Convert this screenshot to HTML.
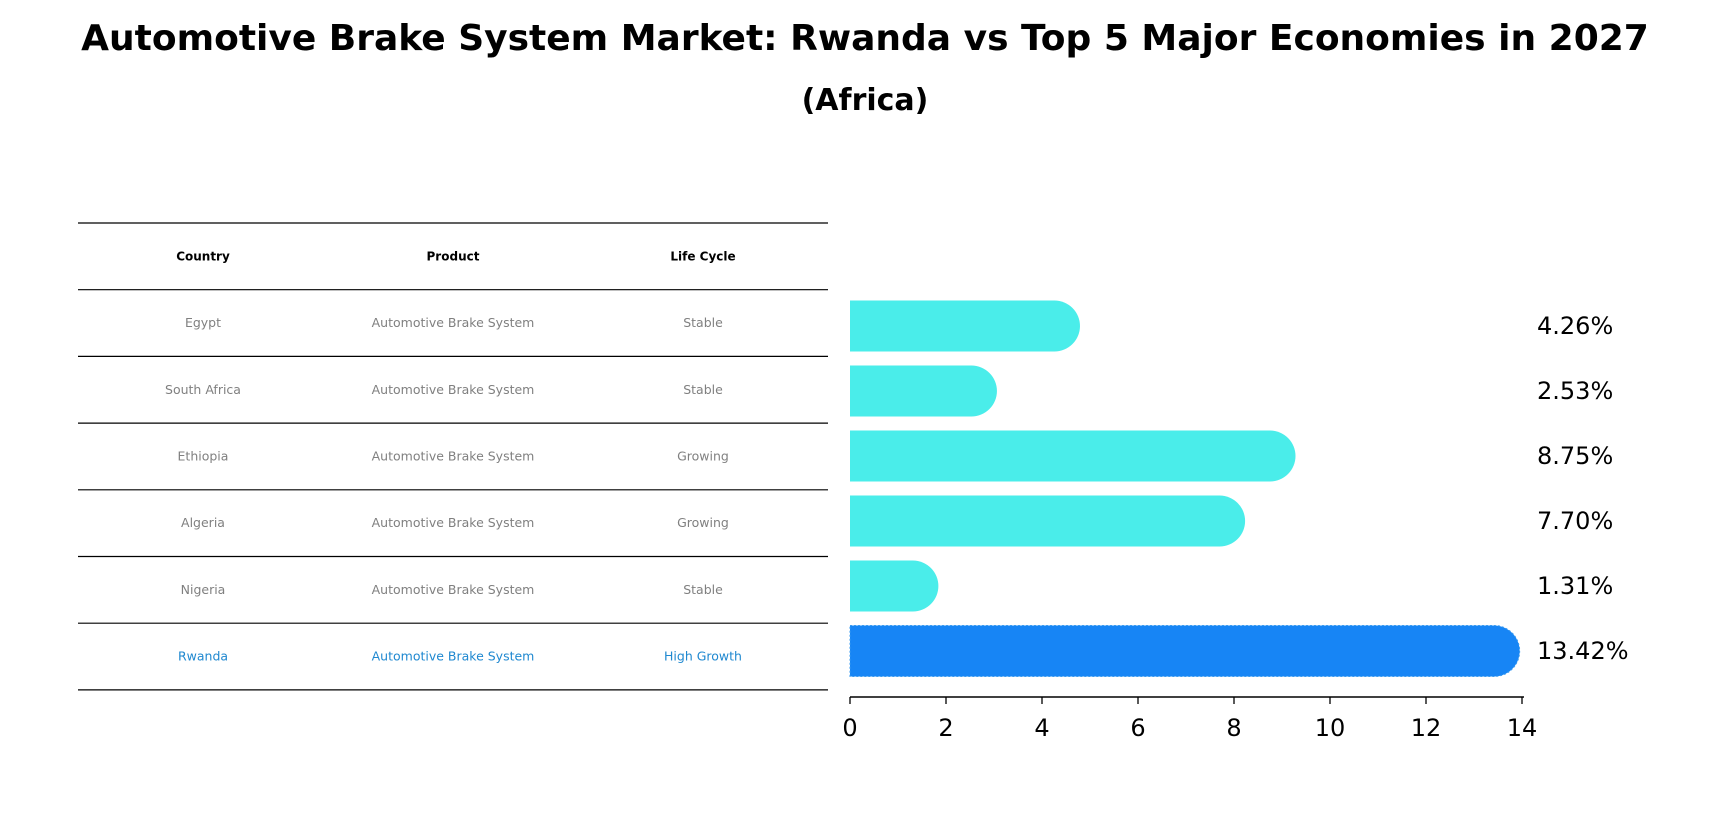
<!DOCTYPE html>
<html><head><meta charset="utf-8"><style>
body{margin:0;background:#fff;font-family:"DejaVu Sans","Liberation Sans",sans-serif;}
</style></head><body>
<svg width="1731" height="823" xmlns="http://www.w3.org/2000/svg">
<text x="865" y="50" text-anchor="middle" font-size="36" font-weight="bold">Automotive Brake System Market: Rwanda vs Top 5 Major Economies in 2027</text>
<text x="865" y="110" text-anchor="middle" font-size="30" font-weight="bold">(Africa)</text>
<g id="table"></g>
<g id="bars"></g>
</svg>
<script>
const countries=["Egypt","South Africa","Ethiopia","Algeria","Nigeria","Rwanda"];
const products=["Automotive Brake System","Automotive Brake System","Automotive Brake System","Automotive Brake System","Automotive Brake System","Automotive Brake System"];
const lifeCycles=["Stable","Stable","Growing","Growing","Stable","High Growth"];
const values=[4.26,2.53,8.75,7.70,1.31,13.42];
const xTicks=[0,2,4,6,8,10,12,14];
const NS="http://www.w3.org/2000/svg";
function mk(t,a,p,txt){const e=document.createElementNS(NS,t);for(const k in a)e.setAttribute(k,a[k]);if(txt!=null)e.textContent=txt;p.appendChild(e);return e;}
const tbl=document.getElementById('table');
const tx0=78,tx1=828,rowTop=223,rowH=66.7;
const colX=[203,453,703];
for(let i=0;i<=7;i++){const l=mk('line',{x1:tx0,x2:tx1,y1:rowTop+i*rowH,y2:rowTop+i*rowH,stroke:'#000','stroke-width':1.2},tbl);

}
["Country","Product","Life Cycle"].forEach((h,j)=>{const t=mk('text',{x:colX[j],y:rowTop+rowH/2+4,'text-anchor':'middle','font-size':12,'font-weight':'bold'},tbl,h);

});
countries.forEach((c,i)=>{const y=rowTop+(i+1.5)*rowH+4;const col=i===5?'#1f88d0':'#808080';
[c,products[i],lifeCycles[i]].forEach((v,j)=>{const t=mk('text',{x:colX[j],y:y,'text-anchor':'middle','font-size':12.5,fill:col},tbl,v);

});});
const g=document.getElementById('bars');
const X0=850,X1=1522,xMax=14;
const xs=v=>X0+v/xMax*(X1-X0);
const yc=i=>326+i*65;
const bh=51;
values.forEach((v,i)=>{const x=xs(v),y=yc(i),r=bh/2;const col=i===5?'#1785f5':'#4aedea';
const p=mk('path',{d:`M${X0},${y-r} L${x},${y-r} A${r},${r} 0 0 1 ${x},${y+r} L${X0},${y+r} Z`,fill:col},g);
if(i===5){p.setAttribute('stroke','#3a9cf0');p.setAttribute('stroke-dasharray','2,2');}


const t=mk('text',{x:1537,y:y+8,'font-size':24},g,v.toFixed(2)+'%');

});
const ax=mk('line',{x1:X0,x2:X1+2,y1:697,y2:697,stroke:'#000','stroke-width':1.5},g);


xTicks.forEach(v=>{const x=xs(v);mk('line',{x1:x,x2:x,y1:697,y2:704,stroke:'#000','stroke-width':1.3},g);
const t=mk('text',{x:x,y:736,'text-anchor':'middle','font-size':24},g,String(v));

});
</script>
</body></html>
